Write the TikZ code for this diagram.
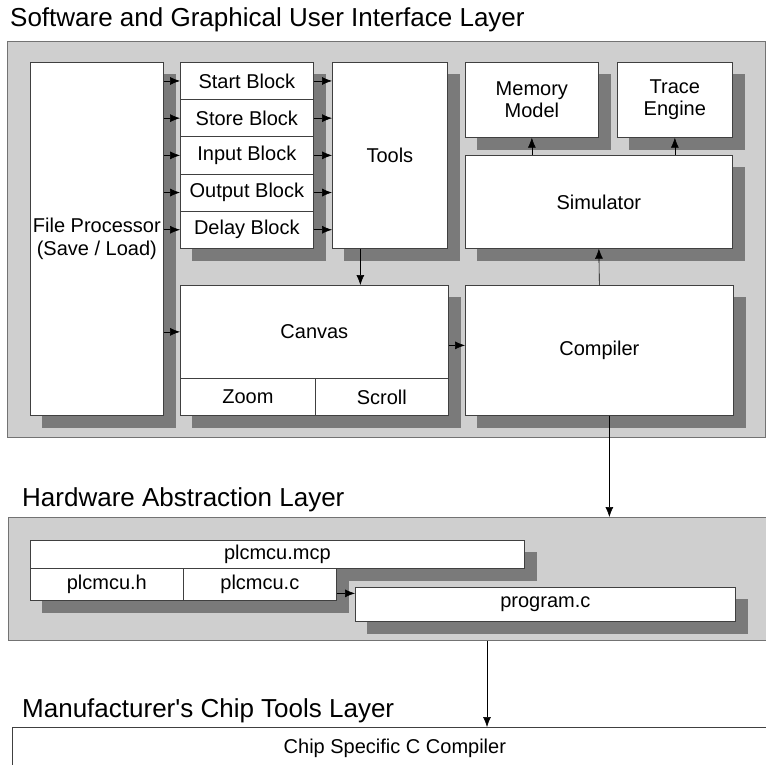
\documentclass[tikz,border=0pt]{standalone}
\usepackage{fontspec}
\setmainfont{Liberation Sans}
\newfontfamily\plainsans{Liberation Sans}
\usetikzlibrary{arrows.meta,calc}
\pgfdeclarelayer{panel}
\pgfdeclarelayer{shadow}
\pgfsetlayers{panel,shadow,main}
\begin{document}
\begin{tikzpicture}[x=1pt,y=-1pt,
  box/.style={draw=black!75, line width=0.7pt, fill=white, inner sep=0pt,
    font=\fontsize{20}{22.5}\selectfont, anchor=north west, align=center},
  paneltitle/.style={font=\plainsans\fontsize{26}{28}\selectfont, anchor=base west, inner sep=0pt},
  panelbox/.style={draw=black!55, line width=0.6pt, fill=black!19, anchor=north west, inner sep=0pt},
  arr/.style={-{Latex[length=10pt,width=8pt]}, line width=0.6pt, black},
  shade/.style={fill=black!52}
]
\clip (0,0) rectangle (766,764);

% titles
\node[paneltitle] (swtitle) at (10,26.5) {Software and Graphical User Interface Layer};
\node[paneltitle] (haltitle) at (22,506) {Hardware Abstraction Layer};
\node[paneltitle] (mantitle) at (22,717) {Manufacturer's Chip Tools Layer};

% software layer boxes
\node[box, minimum width=133, minimum height=353] (fp) at (30,62) {File Processor\\(Save / Load)};
\node[box, minimum width=133, minimum height=37.2] (start) at (180,62) {Start Block};
\node[box, minimum width=133, minimum height=37.2] (store) at (180,99.2) {Store Block};
\node[box, minimum width=133, minimum height=37.2] (input) at (180,136.4) {Input Block};
\node[box, minimum width=133, minimum height=37.2] (output) at (180,173.6) {Output Block};
\node[box, minimum width=133, minimum height=37.2] (delay) at (180,210.8) {Delay Block};
\node[box, minimum width=115, minimum height=186] (tools) at (332,62) {Tools};
\node[box, minimum width=268, minimum height=93] (canvas) at (180,285) {Canvas};
\node[box, minimum width=135, minimum height=37] (zoom) at (180,378) {Zoom};
\node[box, minimum width=133, minimum height=37] (scroll) at (315,378) {Scroll};
\node[box, minimum width=133, minimum height=75] (mem) at (465,62) {Memory\\Model};
\node[box, minimum width=115, minimum height=75] (trace) at (617,62) {Trace\\Engine};
\node[box, minimum width=267, minimum height=93] (sim) at (465,155) {Simulator};
\node[box, minimum width=268, minimum height=130] (comp) at (465,285) {Compiler};

% hardware abstraction layer boxes
\node[box, minimum width=494, minimum height=28] (mcp) at (30,540) {plcmcu.mcp};
\node[box, minimum width=153, minimum height=32] (plch) at (30,568) {plcmcu.h};
\node[box, minimum width=153, minimum height=32] (plcc) at (183,568) {plcmcu.c};
\node[box, minimum width=380, minimum height=34] (prog) at (355,587) {program.c};

% chip tools layer
\node[box, minimum width=765, minimum height=42] (chip) at (12,727) {Chip Specific C Compiler};

% panels
\begin{pgfonlayer}{panel}
\node[panelbox, minimum width=758, minimum height=396] (sw) at (7,41) {};
\node[panelbox, minimum width=770, minimum height=123] (hal) at (8,517) {};
\end{pgfonlayer}

% shadows
\begin{pgfonlayer}{shadow}
\foreach \a/\b in {fp/fp, start/delay, tools/tools, canvas/scroll, mem/mem, trace/trace,
                   sim/sim, comp/comp, mcp/mcp, plch/plcc, prog/prog} {
  \fill[shade] ($(\a.north west)+(12,12)$) rectangle ($(\b.south east)+(12,12)$);
}
\end{pgfonlayer}

% connectors
\foreach \b in {start,store,input,output,delay} {
  \draw[arr] (fp.east |- \b.west) -- (\b.west);
  \draw[arr] (\b.east) -- (tools.west |- \b.east);
}
\draw[arr] (fp.east |- canvas.west) -- (canvas.west);
\draw[arr] ([xshift=-29.5pt]tools.south) -- ([xshift=-29.5pt]tools.south |- canvas.north);
\draw[arr] ([yshift=5pt]comp.west -| canvas.east) -- ([yshift=5pt]comp.west);
\draw[arr] (comp.north) -- (sim.south);
\draw[arr] (sim.north -| mem.south) -- (mem.south);
\draw[arr] (sim.north -| trace.south) -- (trace.south);
\draw[arr] ([xshift=10pt]comp.south) -- ([xshift=10pt]comp.south |- hal.north);
\draw[arr] ([yshift=11pt]prog.west -| plcc.east) -- ([yshift=11pt]prog.west);
\coordinate (hc) at (487,0);
\draw[arr] (hal.south -| hc) -- (chip.north -| hc);
\end{tikzpicture}
\end{document}
